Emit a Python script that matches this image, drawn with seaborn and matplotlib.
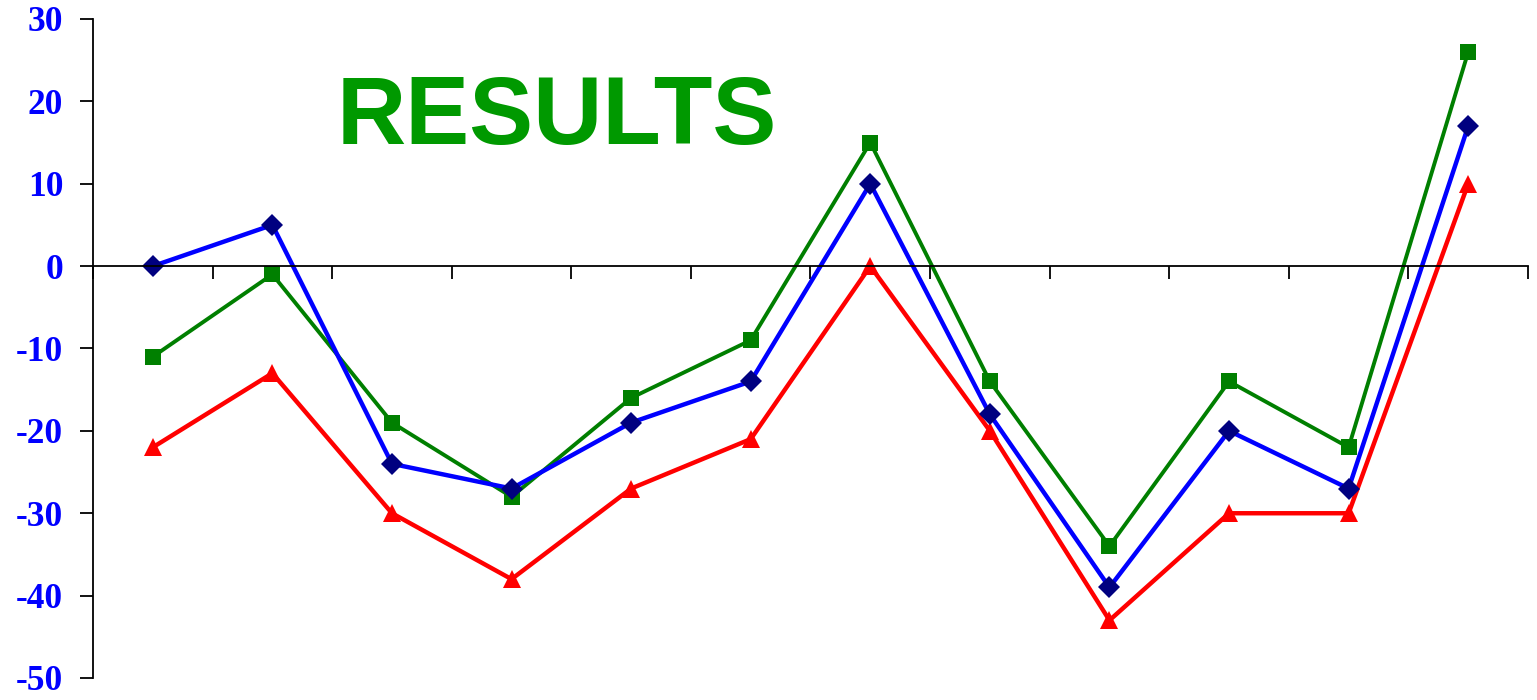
import numpy as np
import pandas as pd
import matplotlib
matplotlib.use("Agg")
import matplotlib.pyplot as plt
import seaborn as sns

# values, 12 periods
periods = list(range(12))
blue_vals = [0, 5, -24, -27, -19, -14, 10, -18, -39, -20, -27, 17]
green_vals = [-11, -1, -19, -28, -16, -9, 15, -14, -34, -14, -22, 26]
red_vals = [-22, -13, -30, -38, -27, -21, 0, -20, -43, -30, -30, 10]
y_ticks = [-50, -40, -30, -20, -10, 0, 10, 20, 30]
title_text = "RESULTS"

sns.set_style("white")
plt.rcParams['font.family'] = ['Liberation Serif', 'DejaVu Serif']

fig = plt.figure(figsize=(15.37, 7.0), dpi=100)
ax = fig.add_axes([93 / 1537, 1 - 678 / 700, (1528 - 93) / 1537, (678 - 19) / 700])

df = pd.DataFrame({"period": periods, "blue": blue_vals,
                   "green": green_vals, "red": red_vals})

sns.lineplot(data=df, x="period", y="red", ax=ax, color="#ff0000", lw=3.2,
             marker="^", markersize=13, markerfacecolor="#ff0000",
             markeredgecolor="#ff0000", markeredgewidth=0, clip_on=False)
sns.lineplot(data=df, x="period", y="green", ax=ax, color="#007f00", lw=2.8,
             marker="s", markersize=11.5, markerfacecolor="#008000",
             markeredgecolor="#008000", markeredgewidth=0, clip_on=False)
sns.lineplot(data=df, x="period", y="blue", ax=ax, color="#0000ff", lw=3.2,
             marker="D", markersize=11, markerfacecolor="#000080",
             markeredgecolor="#000080", markeredgewidth=0, clip_on=False)

ax.set_xlim(-0.5, 11.5)
ax.set_ylim(-50, 30)
ax.set_xlabel("")
ax.set_ylabel("")

# x axis runs through zero, ticks at category boundaries
ax.spines['bottom'].set_position(('data', 0))
ax.spines['top'].set_visible(False)
ax.spines['right'].set_visible(False)
for s in ['left', 'bottom']:
    ax.spines[s].set_color("black")
    ax.spines[s].set_linewidth(1.3)

ax.set_xticks(np.arange(-0.5, 12, 1.0))
ax.set_xticklabels([])
ax.tick_params(axis='x', direction='out', length=9.5, width=1.3, color="black", bottom=True)

ax.set_yticks(y_ticks)
ax.set_yticklabels([str(v) for v in y_ticks])
ax.tick_params(axis='y', direction='out', length=9.5, width=1.3, color="black",
               left=True, pad=12, labelsize=25.5, labelcolor="#0000ff")
for lab in ax.get_yticklabels():
    lab.set_fontweight("bold")

ax.text(3.38, 17.9, title_text, color="#009900", fontsize=69, fontweight="bold",
        family=['Liberation Sans', 'DejaVu Sans'], ha="center", va="center")

ax.grid(False)
fig.savefig("out.png", dpi=100)
